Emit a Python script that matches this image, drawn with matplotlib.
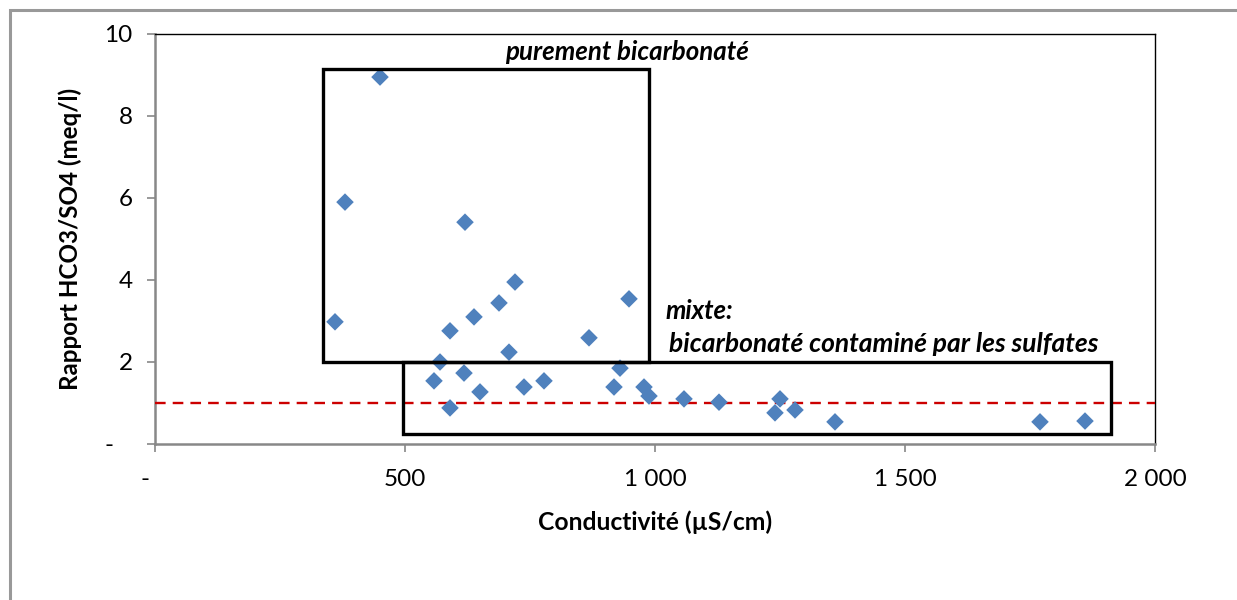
import numpy as np
import matplotlib
matplotlib.use("Agg")
from matplotlib import pyplot as plt
from matplotlib.patches import Rectangle
from matplotlib.ticker import FuncFormatter

plt.rcParams["font.family"] = ["Lato", "DejaVu Sans"]

# conductivite (uS/cm) et rapport HCO3/SO4 (meq/l)
conductivite = [450, 380, 360, 620, 720, 688, 638, 590, 708, 948, 868, 570,
                558, 618, 650, 590, 738, 778, 930, 918, 978, 988, 1058, 1128,
                1240, 1250, 1280, 1360, 1770, 1860]
rapport = [8.95, 5.90, 2.98, 5.41, 3.95, 3.44, 3.10, 2.76, 2.24, 3.54, 2.59, 2.00,
           1.54, 1.73, 1.27, 0.88, 1.39, 1.54, 1.85, 1.39, 1.39, 1.17, 1.10, 1.02,
           0.76, 1.10, 0.83, 0.54, 0.54, 0.56]
seuil = 1.0

# zones (x0, y0, x1, y1)
zone_bicarb = (336, 2.0, 988, 9.14)
zone_mixte = (495, 0.24, 1912, 2.0)


def fmt_nombre(v, pos):
    # format "comptabilite" d'Excel : zero -> tiret
    if v == 0:
        return "-   "
    return "{:,.0f}".format(v).replace(",", " ")


fig = plt.figure(figsize=(12.37, 6.0), dpi=100)
ax = fig.add_axes([155 / 1237, 156 / 600, 1000 / 1237, 410 / 600])

# cadre exterieur
fig.patches.append(Rectangle((10 / 1237, -0.1), 1.2, 590 / 600 + 0.1,
                             transform=fig.transFigure, fill=False,
                             edgecolor="#999999", linewidth=2.2))

ax.scatter(conductivite, rapport, marker="D", s=80, color="#4F81BD",
           edgecolors="none", zorder=4)
ax.axhline(seuil, color="#CC0000", linestyle=(0, (4.5, 3)), linewidth=1.7, zorder=3)

for x0, y0, x1, y1 in (zone_bicarb, zone_mixte):
    ax.add_patch(Rectangle((x0, y0), x1 - x0, y1 - y0, fill=False,
                           edgecolor="black", linewidth=2.4, zorder=5))

ax.text(944, 9.56, "purement bicarbonaté", ha="center", va="center",
        fontsize=18.6, fontweight="bold", fontstyle="italic")
ax.text(1020, 3.24, "mixte:", ha="left", va="center",
        fontsize=18.5, fontweight="bold", fontstyle="italic")
ax.text(1028, 2.43, "bicarbonaté contaminé par les sulfates", ha="left", va="center",
        fontsize=19, fontweight="bold", fontstyle="italic")

ax.set_xlim(0, 2000)
ax.set_ylim(0, 10)
ax.set_xticks([0, 500, 1000, 1500, 2000])
ax.set_yticks([0, 2, 4, 6, 8, 10])
ax.xaxis.set_major_formatter(FuncFormatter(fmt_nombre))
ax.yaxis.set_major_formatter(FuncFormatter(fmt_nombre))
ax.tick_params(axis="both", direction="out", length=6, width=1.2, color="#888888",
               labelsize=17.5)
ax.tick_params(axis="x", pad=12)
ax.tick_params(axis="y", pad=10)

for side in ("left", "bottom"):
    ax.spines[side].set_color("#888888")
    ax.spines[side].set_linewidth(1.8)
for side in ("top", "right"):
    ax.spines[side].set_color("black")
    ax.spines[side].set_linewidth(1.0)

ax.set_xlabel("Conductivité (µS/cm)", fontsize=17.7, fontweight="bold")
ax.set_ylabel("Rapport HCO3/SO4 (meq/l)", fontsize=17.4, fontweight="bold")
ax.xaxis.set_label_coords(0.5, -0.163)
ax.yaxis.set_label_coords(-0.073, 0.5)

fig.savefig("out.png", dpi=100)
